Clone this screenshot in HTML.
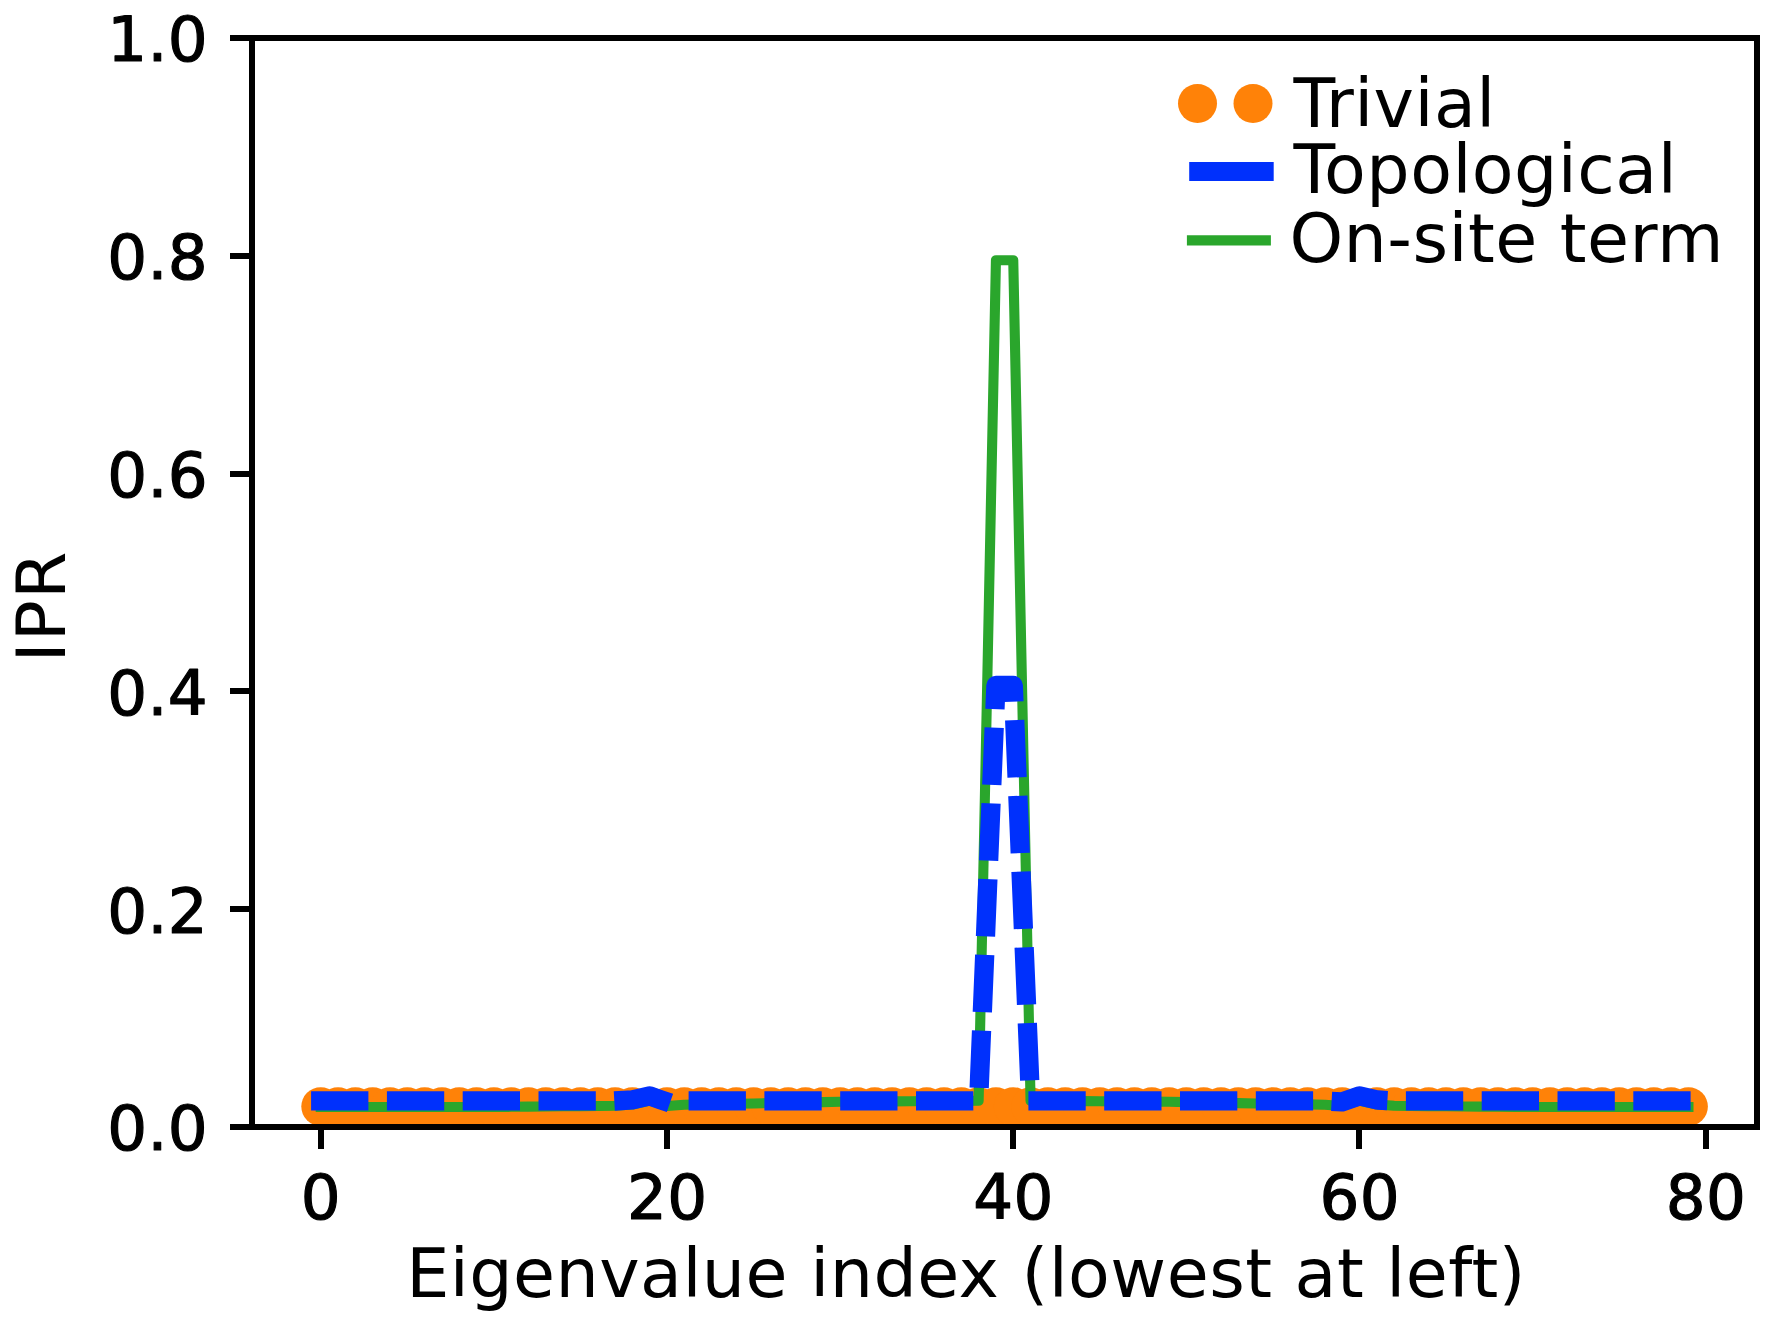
<!DOCTYPE html>
<html><head><meta charset="utf-8"><title>IPR plot</title>
<style>
html,body{margin:0;padding:0;background:#fff;}
body{width:1777px;height:1325px;overflow:hidden;}
svg{display:block;}
text{font-family:"DejaVu Sans","Liberation Sans",sans-serif;fill:#000;}
</style></head><body>
<svg width="1777" height="1325" viewBox="0 0 1777 1325">
<rect width="1777" height="1325" fill="#ffffff"/>

<defs><clipPath id="ax"><rect x="252.0" y="38.0" width="1505.0" height="1089.0"/></clipPath></defs>
<g clip-path="url(#ax)">
<g fill="#ff8208">
<circle cx="320.75" cy="1106.6" r="19.45"/>
<circle cx="338.06" cy="1106.6" r="19.45"/>
<circle cx="355.38" cy="1106.6" r="19.45"/>
<circle cx="372.69" cy="1106.6" r="19.45"/>
<circle cx="390.00" cy="1106.6" r="19.45"/>
<circle cx="407.31" cy="1106.6" r="19.45"/>
<circle cx="424.62" cy="1106.6" r="19.45"/>
<circle cx="441.94" cy="1106.6" r="19.45"/>
<circle cx="459.25" cy="1106.6" r="19.45"/>
<circle cx="476.56" cy="1106.6" r="19.45"/>
<circle cx="493.88" cy="1106.6" r="19.45"/>
<circle cx="511.19" cy="1106.6" r="19.45"/>
<circle cx="528.50" cy="1106.6" r="19.45"/>
<circle cx="545.81" cy="1106.6" r="19.45"/>
<circle cx="563.12" cy="1106.6" r="19.45"/>
<circle cx="580.44" cy="1106.6" r="19.45"/>
<circle cx="597.75" cy="1106.6" r="19.45"/>
<circle cx="615.06" cy="1106.6" r="19.45"/>
<circle cx="632.38" cy="1106.6" r="19.45"/>
<circle cx="649.69" cy="1106.6" r="19.45"/>
<circle cx="667.00" cy="1106.6" r="19.45"/>
<circle cx="684.31" cy="1106.6" r="19.45"/>
<circle cx="701.62" cy="1106.6" r="19.45"/>
<circle cx="718.94" cy="1106.6" r="19.45"/>
<circle cx="736.25" cy="1106.6" r="19.45"/>
<circle cx="753.56" cy="1106.6" r="19.45"/>
<circle cx="770.88" cy="1106.6" r="19.45"/>
<circle cx="788.19" cy="1106.6" r="19.45"/>
<circle cx="805.50" cy="1106.6" r="19.45"/>
<circle cx="822.81" cy="1106.6" r="19.45"/>
<circle cx="840.12" cy="1106.6" r="19.45"/>
<circle cx="857.44" cy="1106.6" r="19.45"/>
<circle cx="874.75" cy="1106.6" r="19.45"/>
<circle cx="892.06" cy="1106.6" r="19.45"/>
<circle cx="909.38" cy="1106.6" r="19.45"/>
<circle cx="926.69" cy="1106.6" r="19.45"/>
<circle cx="944.00" cy="1106.6" r="19.45"/>
<circle cx="961.31" cy="1106.6" r="19.45"/>
<circle cx="978.62" cy="1106.6" r="19.45"/>
<circle cx="995.94" cy="1106.6" r="19.45"/>
<circle cx="1013.25" cy="1106.6" r="19.45"/>
<circle cx="1030.56" cy="1106.6" r="19.45"/>
<circle cx="1047.88" cy="1106.6" r="19.45"/>
<circle cx="1065.19" cy="1106.6" r="19.45"/>
<circle cx="1082.50" cy="1106.6" r="19.45"/>
<circle cx="1099.81" cy="1106.6" r="19.45"/>
<circle cx="1117.12" cy="1106.6" r="19.45"/>
<circle cx="1134.44" cy="1106.6" r="19.45"/>
<circle cx="1151.75" cy="1106.6" r="19.45"/>
<circle cx="1169.06" cy="1106.6" r="19.45"/>
<circle cx="1186.38" cy="1106.6" r="19.45"/>
<circle cx="1203.69" cy="1106.6" r="19.45"/>
<circle cx="1221.00" cy="1106.6" r="19.45"/>
<circle cx="1238.31" cy="1106.6" r="19.45"/>
<circle cx="1255.62" cy="1106.6" r="19.45"/>
<circle cx="1272.94" cy="1106.6" r="19.45"/>
<circle cx="1290.25" cy="1106.6" r="19.45"/>
<circle cx="1307.56" cy="1106.6" r="19.45"/>
<circle cx="1324.88" cy="1106.6" r="19.45"/>
<circle cx="1342.19" cy="1106.6" r="19.45"/>
<circle cx="1359.50" cy="1106.6" r="19.45"/>
<circle cx="1376.81" cy="1106.6" r="19.45"/>
<circle cx="1394.12" cy="1106.6" r="19.45"/>
<circle cx="1411.44" cy="1106.6" r="19.45"/>
<circle cx="1428.75" cy="1106.6" r="19.45"/>
<circle cx="1446.06" cy="1106.6" r="19.45"/>
<circle cx="1463.38" cy="1106.6" r="19.45"/>
<circle cx="1480.69" cy="1106.6" r="19.45"/>
<circle cx="1498.00" cy="1106.6" r="19.45"/>
<circle cx="1515.31" cy="1106.6" r="19.45"/>
<circle cx="1532.62" cy="1106.6" r="19.45"/>
<circle cx="1549.94" cy="1106.6" r="19.45"/>
<circle cx="1567.25" cy="1106.6" r="19.45"/>
<circle cx="1584.56" cy="1106.6" r="19.45"/>
<circle cx="1601.88" cy="1106.6" r="19.45"/>
<circle cx="1619.19" cy="1106.6" r="19.45"/>
<circle cx="1636.50" cy="1106.6" r="19.45"/>
<circle cx="1653.81" cy="1106.6" r="19.45"/>
<circle cx="1671.12" cy="1106.6" r="19.45"/>
<circle cx="1688.44" cy="1106.6" r="19.45"/>
</g>
<polyline points="320.75,1107.00 338.06,1107.00 355.38,1107.00 372.69,1107.00 390.00,1107.00 407.31,1107.00 424.62,1107.00 441.94,1107.00 459.25,1107.00 476.56,1107.00 493.88,1107.00 511.19,1106.82 528.50,1106.64 545.81,1106.47 563.12,1106.29 580.44,1106.11 597.75,1105.93 615.06,1105.76 632.38,1104.58 649.69,1100.50 667.00,1106.02 684.31,1104.75 701.62,1104.42 718.94,1104.09 736.25,1103.76 753.56,1103.44 770.88,1103.11 788.19,1102.78 805.50,1102.45 822.81,1102.13 840.12,1101.80 857.44,1101.67 874.75,1101.55 892.06,1101.42 909.38,1101.30 926.69,1101.17 944.00,1101.05 961.31,1100.92 978.62,1100.80 995.94,260.20 1013.25,260.20 1030.56,1100.80 1047.88,1100.92 1065.19,1101.05 1082.50,1101.17 1099.81,1101.30 1117.12,1101.42 1134.44,1101.55 1151.75,1101.67 1169.06,1101.80 1186.38,1102.13 1203.69,1102.45 1221.00,1102.78 1238.31,1103.11 1255.62,1103.44 1272.94,1103.76 1290.25,1104.09 1307.56,1104.42 1324.88,1104.75 1342.19,1106.02 1359.50,1100.50 1376.81,1104.58 1394.12,1105.76 1411.44,1105.93 1428.75,1106.11 1446.06,1106.29 1463.38,1106.47 1480.69,1106.64 1498.00,1106.82 1515.31,1107.00 1532.62,1107.00 1549.94,1107.00 1567.25,1107.00 1584.56,1107.00 1601.88,1107.00 1619.19,1107.00 1636.50,1107.00 1653.81,1107.00 1671.12,1107.00 1688.44,1107.00" fill="none" stroke="#2aa62c" stroke-width="10.1" stroke-linecap="square" stroke-linejoin="round"/>
<polyline points="320.75,1100.95 338.06,1100.95 355.38,1100.95 372.69,1100.95 390.00,1100.95 407.31,1100.95 424.62,1100.95 441.94,1100.95 459.25,1100.95 476.56,1100.95 493.88,1100.95 511.19,1100.95 528.50,1100.95 545.81,1100.95 563.12,1100.95 580.44,1100.95 597.75,1100.95 615.06,1100.95 632.38,1099.95 649.69,1095.96 667.00,1101.90 684.31,1100.95 701.62,1100.95 718.94,1100.95 736.25,1100.95 753.56,1100.95 770.88,1100.95 788.19,1100.95 805.50,1100.95 822.81,1100.95 840.12,1100.95 857.44,1100.95 874.75,1100.95 892.06,1100.95 909.38,1100.95 926.69,1100.95 944.00,1100.95 961.31,1100.95 978.62,1100.95 995.94,685.40 1013.25,685.40 1030.56,1100.95 1047.88,1100.95 1065.19,1100.95 1082.50,1100.95 1099.81,1100.95 1117.12,1100.95 1134.44,1100.95 1151.75,1100.95 1169.06,1100.95 1186.38,1100.95 1203.69,1100.95 1221.00,1100.95 1238.31,1100.95 1255.62,1100.95 1272.94,1100.95 1290.25,1100.95 1307.56,1100.95 1324.88,1100.95 1342.19,1101.90 1359.50,1095.96 1376.81,1099.95 1394.12,1100.95 1411.44,1100.95 1428.75,1100.95 1446.06,1100.95 1463.38,1100.95 1480.69,1100.95 1498.00,1100.95 1515.31,1100.95 1532.62,1100.95 1549.94,1100.95 1567.25,1100.95 1584.56,1100.95 1601.88,1100.95 1619.19,1100.95 1636.50,1100.95 1653.81,1100.95 1671.12,1100.95 1688.44,1100.95" fill="none" stroke="#0030fc" stroke-width="19.3" stroke-dasharray="38.0 37.8" stroke-linecap="square" stroke-linejoin="round"/>
</g>
<rect x="252.0" y="38.0" width="1505.0" height="1089.0" fill="none" stroke="#000" stroke-width="6" stroke-linejoin="miter"/>
<g stroke="#000" stroke-width="6" stroke-linecap="butt">
<line x1="321" y1="1127.0" x2="321" y2="1149.0"/>
<line x1="667" y1="1127.0" x2="667" y2="1149.0"/>
<line x1="1013" y1="1127.0" x2="1013" y2="1149.0"/>
<line x1="1359" y1="1127.0" x2="1359" y2="1149.0"/>
<line x1="1706" y1="1127.0" x2="1706" y2="1149.0"/>
<line x1="252.0" y1="1127" x2="230.0" y2="1127"/>
<line x1="252.0" y1="909" x2="230.0" y2="909"/>
<line x1="252.0" y1="691" x2="230.0" y2="691"/>
<line x1="252.0" y1="474" x2="230.0" y2="474"/>
<line x1="252.0" y1="256" x2="230.0" y2="256"/>
<line x1="252.0" y1="38" x2="230.0" y2="38"/>
</g>
<g font-size="62.7px" letter-spacing="0.3" stroke="#000" stroke-width="1.2" stroke-linejoin="round">
<text x="320.90" y="1219.0" text-anchor="middle">0</text>
<text x="667.15" y="1219.0" text-anchor="middle">20</text>
<text x="1013.40" y="1219.0" text-anchor="middle">40</text>
<text x="1359.65" y="1219.0" text-anchor="middle">60</text>
<text x="1705.90" y="1219.0" text-anchor="middle">80</text>
<text x="207.9" y="1150.30" text-anchor="end">0.0</text>
<text x="207.9" y="932.50" text-anchor="end">0.2</text>
<text x="207.9" y="714.70" text-anchor="end">0.4</text>
<text x="207.9" y="496.90" text-anchor="end">0.6</text>
<text x="207.9" y="279.10" text-anchor="end">0.8</text>
<text x="207.9" y="61.30" text-anchor="end">1.0</text>
</g>
<text x="966" y="1297" font-size="68.3px" letter-spacing="0.46" text-anchor="middle">Eigenvalue index (lowest at left)</text>
<text transform="translate(65.1,606.5) rotate(-90)" font-size="68.3px" letter-spacing="1.06" text-anchor="middle">IPR</text>
<g fill="#ff8208"><circle cx="1197.5" cy="103.4" r="19.5"/><circle cx="1253" cy="103.4" r="19.5"/></g>
<line x1="1198.7" y1="171.5" x2="1264.2" y2="171.5" stroke="#0030fc" stroke-width="19.0" stroke-linecap="square"/>
<line x1="1192" y1="240.3" x2="1265.8" y2="240.3" stroke="#2aa62c" stroke-width="10.2" stroke-linecap="square"/>
<g font-size="68.3px" letter-spacing="0.46">
<text x="1293.5" y="126.9">Trivial</text>
<text x="1293.5" y="193.0">Topological</text>
<text x="1289.4" y="261.7">On-site term</text>
</g>
</svg></body></html>
